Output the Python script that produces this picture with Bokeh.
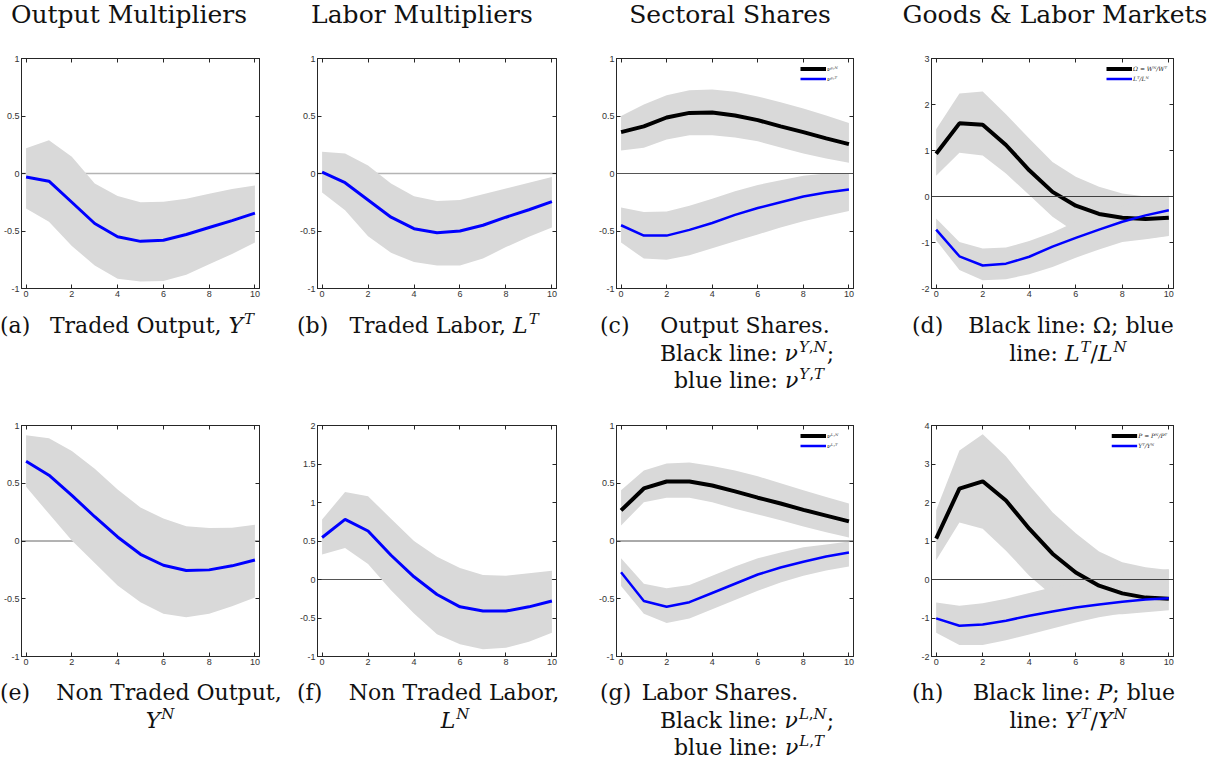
from bokeh.plotting import figure
from bokeh.models import (Div, Span, Legend, LegendItem, LinearAxis, FixedTicker,
                          Range1d, NumeralTickFormatter, CustomLabelingPolicy)
from bokeh.layouts import row, column
from bokeh.embed import file_html
from bokeh.resources import INLINE

# ---------------- data ----------------
horizon = [0, 1, 2, 3, 4, 5, 6, 7, 8, 9, 10]
x_ticks = [0, 2, 4, 6, 8, 10]
y_ticks_unit = [-1, -0.5, 0, 0.5, 1]
y_ticks_f = [-1, -0.5, 0, 0.5, 1, 1.5, 2]
y_ticks_d = [-2, -1, 0, 1, 2, 3]
y_ticks_h = [-2, -1, 0, 1, 2, 3, 4]

column_titles = ["Output Multipliers", "Labor Multipliers", "Sectoral Shares", "Goods & Labor Markets"]

traded_output = [-0.03, -0.067, -0.25, -0.435, -0.55, -0.59, -0.58, -0.53, -0.47, -0.41, -0.345]
traded_output_hi = [0.22, 0.29, 0.145, -0.087, -0.195, -0.25, -0.245, -0.22, -0.175, -0.135, -0.105]
traded_output_lo = [-0.305, -0.42, -0.63, -0.80, -0.915, -0.94, -0.935, -0.88, -0.79, -0.70, -0.60]

traded_labor = [0.012, -0.08, -0.23, -0.38, -0.48, -0.515, -0.50, -0.45, -0.38, -0.315, -0.245]
traded_labor_hi = [0.19, 0.175, 0.07, -0.087, -0.197, -0.24, -0.23, -0.18, -0.13, -0.08, -0.03]
traded_labor_lo = [-0.165, -0.32, -0.545, -0.69, -0.77, -0.80, -0.80, -0.74, -0.64, -0.55, -0.47]

out_share_N = [0.36, 0.41, 0.487, 0.527, 0.53, 0.505, 0.464, 0.41, 0.36, 0.305, 0.255]
out_share_N_hi = [0.50, 0.60, 0.68, 0.725, 0.73, 0.71, 0.67, 0.62, 0.565, 0.505, 0.44]
out_share_N_lo = [0.20, 0.225, 0.295, 0.333, 0.333, 0.313, 0.28, 0.226, 0.174, 0.13, 0.093]
out_share_T = [-0.45, -0.54, -0.54, -0.49, -0.43, -0.36, -0.30, -0.25, -0.20, -0.165, -0.14]
out_share_T_hi = [-0.295, -0.335, -0.33, -0.28, -0.22, -0.155, -0.10, -0.058, -0.02, 0.0, 0.005]
out_share_T_lo = [-0.60, -0.74, -0.75, -0.71, -0.65, -0.59, -0.53, -0.47, -0.415, -0.37, -0.325]

omega = [0.93, 1.59, 1.56, 1.12, 0.57, 0.10, -0.20, -0.38, -0.46, -0.49, -0.46]
omega_hi = [1.46, 2.24, 2.28, 1.79, 1.26, 0.75, 0.43, 0.21, 0.065, 0.0, -0.01]
omega_lo = [0.45, 0.95, 0.89, 0.50, 0.03, -0.44, -0.78, -0.90, -0.95, -0.92, -0.85]
lt_ln = [-0.72, -1.30, -1.50, -1.46, -1.31, -1.09, -0.90, -0.72, -0.55, -0.41, -0.30]
lt_ln_hi = [-0.48, -0.99, -1.13, -1.11, -0.97, -0.78, -0.55, -0.37, -0.20, -0.08, 0.02]
lt_ln_lo = [-0.95, -1.60, -1.82, -1.80, -1.69, -1.53, -1.33, -1.15, -0.99, -0.93, -0.86]

nontraded_output = [0.69, 0.57, 0.395, 0.21, 0.035, -0.115, -0.21, -0.255, -0.25, -0.215, -0.165]
nontraded_output_hi = [0.915, 0.89, 0.78, 0.625, 0.445, 0.29, 0.195, 0.127, 0.113, 0.115, 0.14]
nontraded_output_lo = [0.47, 0.235, 0.005, -0.19, -0.385, -0.53, -0.63, -0.66, -0.63, -0.565, -0.49]

nontraded_labor = [0.545, 0.78, 0.63, 0.315, 0.035, -0.195, -0.355, -0.41, -0.41, -0.355, -0.28]
nontraded_labor_hi = [0.78, 1.135, 1.08, 0.79, 0.50, 0.295, 0.15, 0.06, 0.05, 0.08, 0.115]
nontraded_labor_lo = [0.325, 0.41, 0.20, -0.14, -0.44, -0.71, -0.84, -0.905, -0.885, -0.81, -0.69]

lab_share_N = [0.265, 0.455, 0.515, 0.515, 0.48, 0.43, 0.375, 0.325, 0.27, 0.22, 0.17]
lab_share_N_hi = [0.44, 0.61, 0.67, 0.68, 0.65, 0.61, 0.56, 0.50, 0.44, 0.38, 0.325]
lab_share_N_lo = [0.135, 0.335, 0.375, 0.375, 0.335, 0.28, 0.23, 0.18, 0.125, 0.075, 0.03]
lab_share_T = [-0.27, -0.52, -0.57, -0.53, -0.45, -0.37, -0.29, -0.23, -0.18, -0.135, -0.10]
lab_share_T_hi = [-0.15, -0.37, -0.41, -0.38, -0.30, -0.22, -0.15, -0.10, -0.055, -0.03, -0.005]
lab_share_T_lo = [-0.39, -0.63, -0.71, -0.67, -0.59, -0.51, -0.43, -0.36, -0.30, -0.255, -0.22]

rel_price = [1.06, 2.36, 2.55, 2.05, 1.32, 0.67, 0.18, -0.16, -0.36, -0.47, -0.50]
rel_price_hi = [1.8, 3.35, 3.77, 3.2, 2.45, 1.75, 1.2, 0.73, 0.45, 0.32, 0.25]
rel_price_lo = [0.5, 1.48, 1.32, 0.75, 0.1, -0.42, -0.75, -0.9, -0.9, -0.85, -0.8]
yt_yn = [-1.01, -1.2, -1.17, -1.07, -0.94, -0.83, -0.73, -0.65, -0.58, -0.52, -0.49]
yt_yn_hi = [-0.6, -0.68, -0.62, -0.5, -0.35, -0.2, -0.1, 0.0, 0.1, 0.2, 0.27]
yt_yn_lo = [-1.38, -1.7, -1.7, -1.58, -1.43, -1.27, -1.12, -0.98, -0.88, -0.75, -0.62]

legend_c = ["\u03bd\u02b8\u02d2\u1d3a", "\u03bd\u02b8\u02d2\u1d40"]
legend_d = ["\u03a9 = W\u1d3a/W\u1d40", "L\u1d40/L\u1d3a"]
legend_g = ["\u03bd\u1d38\u02d2\u1d3a", "\u03bd\u1d38\u02d2\u1d40"]
legend_h = ["P = P\u1d3a/P\u1d40", "Y\u1d40/Y\u1d3a"]

# ---------------- style ----------------
AX = "#262626"
BAND = "#d9d9d9"
BLUE = "#0000ff"
SERIF = "DejaVu Serif"
TICKFONT = "Liberation Sans"

COL_W = [296, 299, 319, 292]
RIGHT_B = [37, 39, 61, 33]
LEFT_B = 17

NO_LABELS = """
for (const i of indices) {
  indices.unset(i)
}
return indices
"""


def make_panel(ci, top, frame_h, bottom, yr, yticks, zero_over, zero_color, zero_w):
    p = figure(width=COL_W[ci], height=top + frame_h + bottom,
               x_range=Range1d(-0.2, 10.2), y_range=Range1d(*yr),
               output_backend="svg", toolbar_location=None,
               min_border_left=LEFT_B, min_border_right=RIGHT_B[ci],
               min_border_top=top, min_border_bottom=bottom,
               outline_line_color=AX, outline_line_width=1,
               background_fill_color="white", border_fill_color="white")
    p.grid.visible = False
    p.xaxis.ticker = FixedTicker(ticks=x_ticks)
    p.yaxis.ticker = FixedTicker(ticks=yticks)
    p.yaxis.formatter = NumeralTickFormatter(format="0.[0]")
    for ax in (p.xaxis[0], p.yaxis[0]):
        ax.major_tick_in = 4
        ax.major_tick_out = 0
        ax.minor_tick_line_color = None
        ax.axis_line_color = AX
        ax.major_tick_line_color = AX
        ax.major_label_text_font = TICKFONT
        ax.major_label_text_font_size = "9px"
        ax.major_label_text_color = "#333333"
        ax.major_label_standoff = 2
    for side, tk in (("right", yticks), ("above", x_ticks)):
        a = LinearAxis(ticker=FixedTicker(ticks=tk), major_tick_in=4, major_tick_out=0,
                       minor_tick_line_color=None, axis_line_color=AX,
                       major_tick_line_color=AX, major_label_text_font_size="9px",
                       major_label_standoff=0,
                       major_label_policy=CustomLabelingPolicy(code=NO_LABELS))
        p.add_layout(a, side)
    p.add_layout(Span(location=0, dimension="width", line_color=zero_color,
                      line_width=zero_w, level="overlay" if zero_over else "underlay"))
    p.margin = (0, 0, 0, 0)
    return p


def single(p, mid, lo, hi):
    p.varea(x=horizon, y1=lo, y2=hi, fill_color=BAND, fill_alpha=1.0)
    p.line(x=horizon, y=mid, line_color=BLUE, line_width=3)


def double(p, mid1, lo1, hi1, mid2, lo2, hi2, labels):
    p.varea(x=horizon, y1=lo1, y2=hi1, fill_color=BAND, fill_alpha=1.0)
    p.varea(x=horizon, y1=lo2, y2=hi2, fill_color=BAND, fill_alpha=1.0)
    r1 = p.line(x=horizon, y=mid1, line_color="black", line_width=4)
    r2 = p.line(x=horizon, y=mid2, line_color=BLUE, line_width=2.5)
    leg = Legend(items=[LegendItem(label=labels[0], renderers=[r1]),
                        LegendItem(label=labels[1], renderers=[r2])],
                 location="top_right", label_text_font=SERIF,
                 label_text_font_style="italic", label_text_font_size="6px",
                 label_text_color="#222222",
                 label_height=9, glyph_height=9, glyph_width=26, spacing=1,
                 padding=1, margin=6, label_standoff=1,
                 border_line_color=None, background_fill_alpha=0)
    p.add_layout(leg)


# row 1: frames 58..288 ; row 2: frames 425..656
pa = make_panel(0, 13, 230, 22, (-1, 1), y_ticks_unit, False, "#b4b4b4", 1.5)
single(pa, traded_output, traded_output_lo, traded_output_hi)
pb = make_panel(1, 13, 230, 22, (-1, 1), y_ticks_unit, False, "#b4b4b4", 1.5)
single(pb, traded_labor, traded_labor_lo, traded_labor_hi)
pc = make_panel(2, 13, 230, 22, (-1, 1), y_ticks_unit, True, "#555555", 1)
double(pc, out_share_N, out_share_N_lo, out_share_N_hi, out_share_T, out_share_T_lo, out_share_T_hi, legend_c)
pd = make_panel(3, 13, 230, 22, (-2, 3), y_ticks_d, True, "#404040", 1)
double(pd, omega, omega_lo, omega_hi, lt_ln, lt_ln_lo, lt_ln_hi, legend_d)

pe = make_panel(0, 10, 231, 21, (-1, 1), y_ticks_unit, False, "#666666", 1)
single(pe, nontraded_output, nontraded_output_lo, nontraded_output_hi)
pf = make_panel(1, 10, 231, 21, (-1, 2), y_ticks_f, False, "#555555", 1)
single(pf, nontraded_labor, nontraded_labor_lo, nontraded_labor_hi)
pg = make_panel(2, 10, 231, 21, (-1, 1), y_ticks_unit, True, "#555555", 1)
double(pg, lab_share_N, lab_share_N_lo, lab_share_N_hi, lab_share_T, lab_share_T_lo, lab_share_T_hi, legend_g)
ph = make_panel(3, 10, 231, 21, (-2, 4), y_ticks_h, True, "#404040", 1)
double(ph, rel_price, rel_price_lo, rel_price_hi, yt_yn, yt_yn_lo, yt_yn_hi, legend_h)


# ---------------- text (titles / captions) ----------------
def sup(s):
    return ('<span style="font-size:0.68em;position:relative;top:-0.6em;'
            'margin-left:1px">' + s + '</span>')


def it(s):
    return "<i>" + s + "</i>"


def block(w, h, size, spans):
    inner = "".join(spans)
    return Div(text=('<div style="position:relative;width:%dpx;height:%dpx;'
                     'font-family:\'%s\';font-size:%dpx;color:#111;">%s</div>'
                     % (w, h, SERIF, size, inner)),
               width=w, height=h, margin=(0, 0, 0, 0))


def span_at(x, top, html, center=False):
    tr = "transform:translateX(-50%);" if center else ""
    return ('<span style="position:absolute;left:%dpx;top:%dpx;white-space:nowrap;'
            'line-height:27px;%s">%s</span>' % (x, top, tr, html))


title_centers = [129, 422, 730, 1055]
title_div = block(1206, 45, 25, [span_at(c, 1, t, True) for c, t in zip(title_centers, column_titles)])

nuYN = it("\u03bd") + sup(it("Y") + "," + it("N"))
nuYT = it("\u03bd") + sup(it("Y") + "," + it("T"))
nuLN = it("\u03bd") + sup(it("L") + "," + it("N"))
nuLT = it("\u03bd") + sup(it("L") + "," + it("T"))

L1, L2, L3 = 2, 30, 57
cap1 = block(1206, 105, 22, [
    span_at(0, L1, "(a)"), span_at(152, L1, "Traded Output, " + it("Y") + sup(it("T")), True),
    span_at(297, L1, "(b)"), span_at(444, L1, "Traded Labor, " + it("L") + sup(it("T")), True),
    span_at(600, L1, "(c)"), span_at(745, L1, "Output Shares.", True),
    span_at(747, L2, "Black line: " + nuYN + ";", True),
    span_at(749, L3, "blue line: " + nuYT, True),
    span_at(912, L1, "(d)"), span_at(1071, L1, "Black line: \u03a9; blue", True),
    span_at(1068, L2, "line: " + it("L") + sup(it("T")) + "/" + it("L") + sup(it("N")), True),
])

cap2 = block(1206, 84, 22, [
    span_at(0, L1, "(e)"), span_at(169, L1, "Non Traded Output,", True),
    span_at(160, L2, it("Y") + sup(it("N")), True),
    span_at(297, L1, "(f)"), span_at(454, L1, "Non Traded Labor,", True),
    span_at(455, L2, it("L") + sup(it("N")), True),
    span_at(600, L1, "(g)"), span_at(720, L1, "Labor Shares.", True),
    span_at(747, L2, "Black line: " + nuLN + ";", True),
    span_at(749, L3, "blue line: " + nuLT, True),
    span_at(912, L1, "(h)"), span_at(1074, L1, "Black line: " + it("P") + "; blue", True),
    span_at(1068, L2, "line: " + it("Y") + sup(it("T")) + "/" + it("Y") + sup(it("N")), True),
])

row1 = row(pa, pb, pc, pd, spacing=0, margin=(0, 0, 0, 0))
row2 = row(pe, pf, pg, ph, spacing=0, margin=(0, 0, 0, 0))
layout = column(title_div, row1, cap1, row2, cap2, spacing=0, margin=(0, 0, 0, 0))

open("out.html", "w").write(file_html(layout, INLINE))
